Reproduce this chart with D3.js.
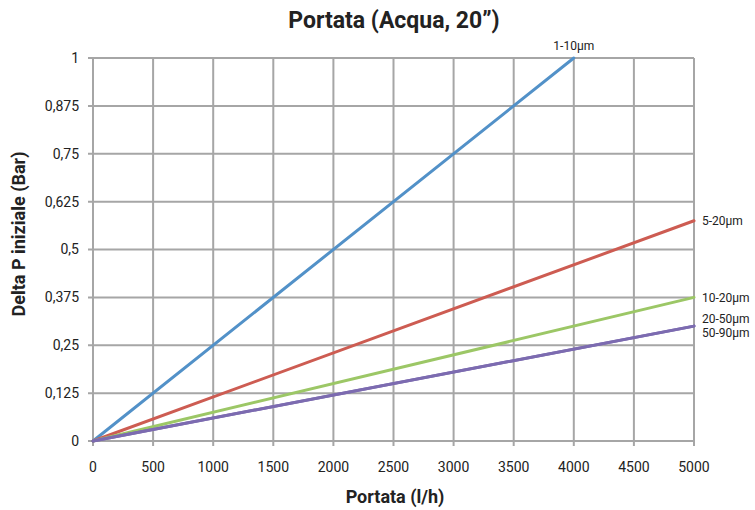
<!DOCTYPE html>
<html>
<head>
<meta charset="utf-8">
<script src="https://cdn.jsdelivr.net/npm/d3@7"></script>
<style>
  body { margin: 0; background: #fff; }
  text { font-family: Roboto, "Noto Sans", sans-serif; fill: #222; }
</style>
</head>
<body>
<div id="chart"></div>
<script>
// data
var seriesNames = ["1-10µm", "5-20µm", "10-20µm", "20-50µm", "50-90µm"];
var endFlow = [4000, 5000, 5000, 5000, 5000];
var endDeltaP = [1, 0.575, 0.375, 0.3, 0.3];
var seriesColors = ["#5291c8", "#cd5c52", "#9cc766", "#7c6bb0", "#7c6bb0"];
var xTicks = [0, 500, 1000, 1500, 2000, 2500, 3000, 3500, 4000, 4500, 5000];
var yTicks = [0, 0.125, 0.25, 0.375, 0.5, 0.625, 0.75, 0.875, 1];

var svgWidth = 755, svgHeight = 510;
var margin = { top: 58, right: 61, bottom: 69, left: 93 };
var width = svgWidth - margin.left - margin.right;
var height = svgHeight - margin.top - margin.bottom;

var svg = d3.select("#chart").append("svg")
    .attr("width", svgWidth)
    .attr("height", svgHeight);

var chartGroup = svg.append("g")
    .attr("transform", `translate(${margin.left}, ${margin.top})`);

var xScale = d3.scaleLinear().domain([0, 5000]).range([0, width]);
var yScale = d3.scaleLinear().domain([0, 1]).range([height, 0]);

// grid
chartGroup.selectAll(".vgrid").data(xTicks).enter()
    .append("line")
    .attr("x1", d => xScale(d)).attr("x2", d => xScale(d))
    .attr("y1", 0).attr("y2", height + 5)
    .attr("stroke", "#a6a6a6").attr("stroke-width", 2);

chartGroup.selectAll(".hgrid").data(yTicks).enter()
    .append("line")
    .attr("x1", -5).attr("x2", width)
    .attr("y1", d => yScale(d)).attr("y2", d => yScale(d))
    .attr("stroke", "#a6a6a6").attr("stroke-width", 2);

// tick labels
var fmt = d => String(d).replace(".", ",");
chartGroup.selectAll(".xlab").data(xTicks).enter()
    .append("text")
    .attr("x", d => xScale(d))
    .attr("y", height + 31)
    .attr("text-anchor", "middle")
    .attr("font-size", "14px")
    .text(d => d);

chartGroup.selectAll(".ylab").data(yTicks).enter()
    .append("text")
    .attr("x", -14)
    .attr("y", d => yScale(d))
    .attr("dy", "0.35em")
    .attr("text-anchor", "end")
    .attr("font-size", "14px")
    .text(fmt);

// series lines
var series = seriesNames.map((n, i) => ({ name: n, x: endFlow[i], y: endDeltaP[i], color: seriesColors[i] }));

chartGroup.selectAll(".series").data(series).enter()
    .append("line")
    .attr("x1", xScale(0)).attr("y1", yScale(0))
    .attr("x2", d => xScale(d.x)).attr("y2", d => yScale(d.y))
    .attr("stroke", d => d.color)
    .attr("stroke-width", 3)
    .attr("stroke-linecap", "round");

// series labels
var labelOffsets = [[0, -12], [8, 0], [8, 0], [8, -7], [8, 7]];
chartGroup.selectAll(".slab").data(series).enter()
    .append("text")
    .attr("x", (d, i) => xScale(d.x) + labelOffsets[i][0])
    .attr("y", (d, i) => yScale(d.y) + labelOffsets[i][1])
    .attr("dy", "0.35em")
    .attr("text-anchor", (d, i) => i == 0 ? "middle" : "start")
    .attr("font-size", "12px")
    .attr("fill", "#333")
    .text(d => d.name);

// titles
svg.append("text")
    .attr("x", 394).attr("y", 28)
    .attr("text-anchor", "middle")
    .attr("font-size", "23px")
    .attr("font-weight", "bold")
    .attr("fill", "#2b2b2b")
    .text("Portata (Acqua, 20”)");

svg.append("text")
    .attr("x", 395).attr("y", 503)
    .attr("text-anchor", "middle")
    .attr("font-size", "18px")
    .attr("font-weight", "bold")
    .text("Portata (l/h)");

svg.append("text")
    .attr("transform", "rotate(-90)")
    .attr("x", -234).attr("y", 25)
    .attr("text-anchor", "middle")
    .attr("font-size", "18px")
    .attr("font-weight", "bold")
    .text("Delta P iniziale (Bar)");
</script>
</body>
</html>
